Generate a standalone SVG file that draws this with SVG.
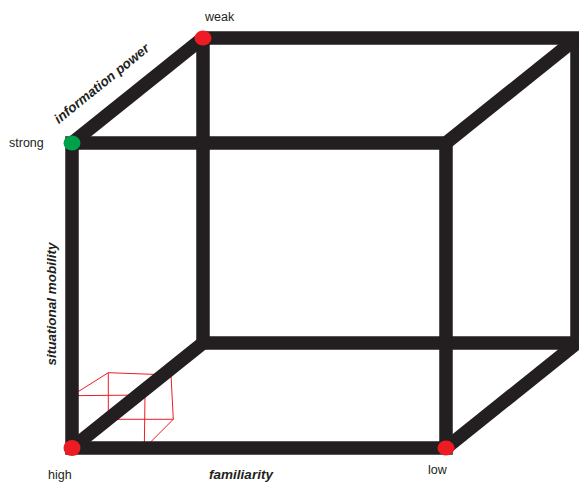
<svg xmlns="http://www.w3.org/2000/svg" width="579" height="482" viewBox="0 0 579 482">
<style>
.bar{fill:none;stroke:#231f20;stroke-width:13.5;stroke-linejoin:miter}
.small{fill:none;stroke:#ed1c24;stroke-width:1}
.lbl{font-family:"Liberation Sans",Arial,sans-serif;font-size:12.5px;fill:#231f20}
.ax{font-family:"Liberation Sans",Arial,sans-serif;font-size:13.5px;font-weight:bold;font-style:italic;fill:#231f20}
</style>
<rect width="579" height="482" fill="#ffffff"/>
<g id="small-cube">
<path class="small" d="M71.7,395.7 L145,395 L144.3,448.3 L71.7,448.3 Z M108.3,372.7 L171,375 L173.3,419.3 L108.3,419.3 Z M71.7,395.7 L108.3,372.7 M145,395 L171,375 M144.3,448.3 L173.3,419.3 M71.7,448.3 L108.3,419.3"/>
</g>
<g id="connectors">
<path class="bar" d="M203,38 L579,38 M577,38 L577,343 L203,343 L203,38"/>
<path class="bar" d="M72,143 L446,143 L446,448 L72,448 Z"/>
<line class="bar" x1="72" y1="143" x2="203" y2="38"/>
<line class="bar" x1="446" y1="143" x2="577" y2="38"/>
<line class="bar" x1="446" y1="448" x2="577" y2="343"/>
<line class="bar" x1="72" y1="448" x2="203" y2="343"/>
</g>
<g id="weak"><ellipse cx="203" cy="38" rx="8.5" ry="7.5" fill="#ed1c24"/><text class="lbl" x="205" y="21">weak</text></g>
<g id="strong"><ellipse cx="72" cy="143" rx="8.5" ry="7.5" fill="#00a14b"/><text class="lbl" x="9" y="147">strong</text></g>
<g id="high"><ellipse cx="72" cy="448" rx="8.5" ry="8" fill="#ed1c24"/><text class="lbl" x="48" y="479">high</text></g>
<g id="low"><ellipse cx="446" cy="448" rx="8.5" ry="7.5" fill="#ed1c24"/><text class="lbl" x="428" y="474">low</text></g>
<g id="labels">
<text class="ax" transform="translate(102,84) rotate(-39)" text-anchor="middle" dy="4">information power</text>
<text class="ax" transform="translate(52,304) rotate(-90)" text-anchor="middle" dy="4">situational mobility</text>
<text class="ax" x="241" y="479" text-anchor="middle">familiarity</text>
</g>
</svg>
